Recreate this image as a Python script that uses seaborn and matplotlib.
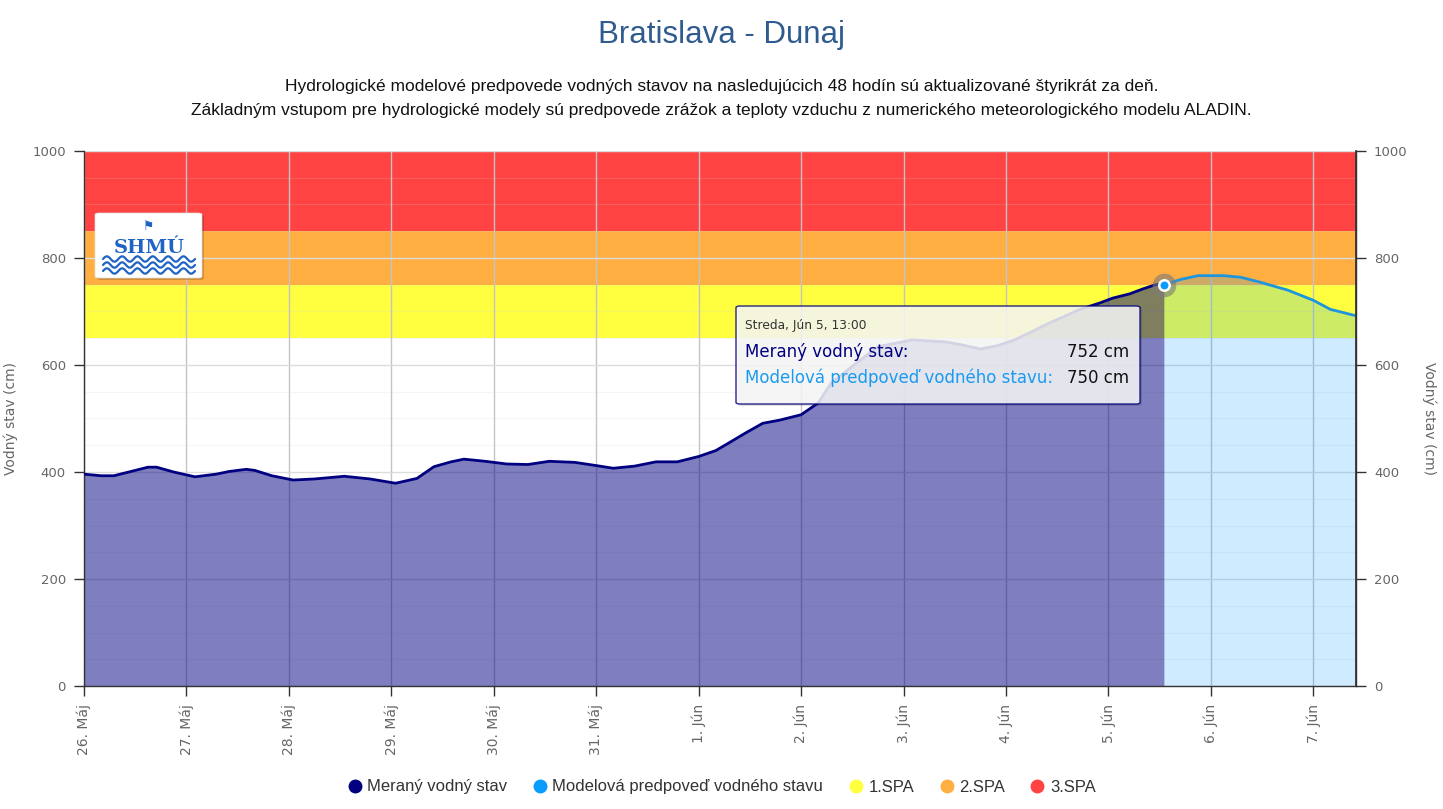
import numpy as np
import pandas as pd
import matplotlib
matplotlib.use("Agg")
import matplotlib.pyplot as plt
from matplotlib.patches import FancyBboxPatch
from matplotlib.lines import Line2D
import seaborn as sns

# ---------------- data ----------------
meas_time = [
    "2024-05-26 00:00", "2024-05-26 04:00", "2024-05-26 07:00", "2024-05-26 11:00",
    "2024-05-26 15:00", "2024-05-26 17:00", "2024-05-26 21:00", "2024-05-27 02:00",
    "2024-05-27 07:00", "2024-05-27 10:00", "2024-05-27 14:00", "2024-05-27 16:00",
    "2024-05-27 20:00", "2024-05-28 01:00", "2024-05-28 06:00", "2024-05-28 13:00",
    "2024-05-28 19:00", "2024-05-29 01:00", "2024-05-29 06:00", "2024-05-29 10:00",
    "2024-05-29 14:00", "2024-05-29 17:00", "2024-05-29 22:00", "2024-05-30 03:00",
    "2024-05-30 08:00", "2024-05-30 13:00", "2024-05-30 19:00", "2024-05-31 00:00",
    "2024-05-31 04:00", "2024-05-31 09:00", "2024-05-31 14:00", "2024-05-31 19:00",
    "2024-06-01 00:00", "2024-06-01 04:00", "2024-06-01 07:00", "2024-06-01 11:00",
    "2024-06-01 15:00", "2024-06-01 19:00", "2024-06-02 00:00", "2024-06-02 04:00",
    "2024-06-02 07:00", "2024-06-02 13:00", "2024-06-02 18:00", "2024-06-03 02:00",
    "2024-06-03 10:00", "2024-06-03 14:00", "2024-06-03 18:00", "2024-06-03 22:00",
    "2024-06-04 02:00", "2024-06-04 06:00", "2024-06-04 10:00", "2024-06-04 14:00",
    "2024-06-04 17:00", "2024-06-04 22:00", "2024-06-05 01:00", "2024-06-05 05:00",
    "2024-06-05 08:00", "2024-06-05 11:00", "2024-06-05 13:00",
]
meas_value = [
    396, 393, 393, 401, 409, 409, 400, 391,
    396, 401, 405, 403, 393, 385, 387, 392,
    387, 379, 388, 410, 419, 424, 420, 415,
    414, 420, 418, 412, 407, 411, 419, 419,
    429, 440, 454, 473, 491, 497, 507, 529,
    566, 604, 634, 647, 643, 637, 630, 636,
    647, 662, 678, 692, 703, 716, 725, 733,
    742, 750, 752,
]
fc_time = [
    "2024-06-05 13:00", "2024-06-05 17:00", "2024-06-05 21:00", "2024-06-06 03:00",
    "2024-06-06 07:00", "2024-06-06 11:00", "2024-06-06 18:00", "2024-06-07 00:00",
    "2024-06-07 04:00", "2024-06-07 10:00",
]
fc_value = [750, 760, 767, 767, 764, 756, 740, 721, 704, 692]

spa_names = ["1.SPA", "2.SPA", "3.SPA"]
spa_from = [650, 750, 850]
spa_to = [750, 850, 1000]
spa_colors = ["#ffff40", "#ffae42", "#ff4242"]

series_names = ["Meraný vodný stav", "Modelová predpoveď vodného stavu"]
series_colors = ["#000080", "#0a9bff"]
fc_line_color = "#1e95dc"

day_ticks = ["2024-05-26", "2024-05-27", "2024-05-28", "2024-05-29", "2024-05-30",
             "2024-05-31", "2024-06-01", "2024-06-02", "2024-06-03", "2024-06-04",
             "2024-06-05", "2024-06-06", "2024-06-07"]
day_labels = ["26. Máj", "27. Máj", "28. Máj", "29. Máj", "30. Máj", "31. Máj",
              "1. Jún", "2. Jún", "3. Jún", "4. Jún", "5. Jún", "6. Jún", "7. Jún"]
x_start, x_end = "2024-05-26 00:00", "2024-06-07 10:00"
y_ticks = [0, 200, 400, 600, 800, 1000]

title = "Bratislava - Dunaj"
subtitle1 = "Hydrologické modelové predpovede vodných stavov na nasledujúcich 48 hodín sú aktualizované štyrikrát za deň."
subtitle2 = "Základným vstupom pre hydrologické modely sú predpovede zrážok a teploty vzduchu z numerického meteorologického modelu ALADIN."
y_label = "Vodný stav (cm)"
tt_date = "Streda, Jún 5, 13:00"
tt_meas = "752 cm"
tt_fc = "750 cm"

# ---------------- plot ----------------
sns.set_theme(style="white")
plt.rcParams["font.family"] = ["DejaVu Sans"]

W, H = 1443, 809
fig = plt.figure(figsize=(W / 100, H / 100), dpi=100)
L, R, T, B = 84, 1356, 151, 686
ax = fig.add_axes([L / W, (H - B) / H, (R - L) / W, (B - T) / H])

meas = pd.DataFrame({"time": pd.to_datetime(meas_time), "value": meas_value})
fc = pd.DataFrame({"time": pd.to_datetime(fc_time), "value": fc_value})

# warning bands
for lo, hi, c in zip(spa_from, spa_to, spa_colors):
    ax.axhspan(lo, hi, color=c, lw=0, zorder=0)

# fills
ax.fill_between(meas["time"], 0, meas["value"], color=series_colors[0], alpha=0.5, lw=0, zorder=1)
ax.fill_between(fc["time"], 0, fc["value"], color=series_colors[1], alpha=0.2, lw=0, zorder=1)

# lines
sns.lineplot(data=meas, x="time", y="value", ax=ax, color=series_colors[0], lw=2.0, zorder=3)
sns.lineplot(data=fc, x="time", y="value", ax=ax, color=fc_line_color, lw=2.0, zorder=3)

# hover point
ax.plot(fc["time"].iloc[0], fc["value"].iloc[0], "o", ms=17, color="#7a7a7a", alpha=0.6,
        mec="none", zorder=4)
ax.plot(fc["time"].iloc[0], fc["value"].iloc[0], "o", ms=7.5, color=series_colors[1],
        mec="white", mew=1.8, zorder=5)

ax.set_xlim(pd.Timestamp(x_start), pd.Timestamp(x_end))
ax.set_ylim(0, 1000)
ax.set_xlabel("")

# grid
ax.set_axisbelow(True)
ax.set_yticks(y_ticks)
ax.set_yticks(np.arange(0, 1001, 50), minor=True)
tick_dates = pd.to_datetime(day_ticks)
ax.set_xticks(tick_dates)
ax.set_xticklabels(day_labels, rotation=90)
ax.grid(False)
ax.grid(which="major", axis="y", color="#dcdcdc", lw=1.0, zorder=0.5)
ax.grid(which="minor", axis="y", color="#d0d0d0", alpha=0.2, lw=0.8, zorder=0.5)
ax.grid(which="major", axis="x", color="#c4c4c4", lw=1.0, zorder=0.5)

ax.spines["top"].set_visible(False)
for s in ["left", "bottom", "right"]:
    ax.spines[s].set_visible(True)
    ax.spines[s].set_color("#333333")
    ax.spines[s].set_linewidth(1.0)

ax.tick_params(axis="y", which="major", direction="out", length=7, width=1, color="#333333",
               labelsize=9.5, labelcolor="#666666", pad=6, left=True)
ax.tick_params(axis="y", which="minor", length=0)
ax.tick_params(axis="x", which="major", direction="out", length=7, width=1, color="#333333",
               labelsize=10, labelcolor="#666666", pad=6, bottom=True)

ax.set_ylabel(y_label, fontsize=10, color="#666666")
ax.yaxis.set_label_coords((18 - L) / (R - L), 0.5)

ax2 = ax.twinx()
ax2.set_ylim(0, 1000)
ax2.set_yticks(y_ticks)
ax2.grid(False)
for s in ["top", "left", "bottom"]:
    ax2.spines[s].set_visible(False)
ax2.spines["right"].set_color("#333333")
ax2.tick_params(axis="y", direction="out", length=7, width=1, color="#333333",
                labelsize=9.5, labelcolor="#666666", pad=6, right=True)
ax2.set_ylabel(y_label, fontsize=10, color="#666666", rotation=270)
ax2.yaxis.set_label_coords((1437 - L) / (R - L), 0.5)

# logo
def axx(px):
    return (px - L) / (R - L)

def axy(py):
    return (B - py) / (B - T)

shadow = FancyBboxPatch((axx(97), axy(280)), axx(204) - axx(97), axy(215) - axy(280),
                        boxstyle="round,pad=0,rounding_size=0.003", transform=ax.transAxes,
                        fc="#000000", alpha=0.18, ec="none", zorder=6)
ax.add_patch(shadow)
logo = FancyBboxPatch((axx(95), axy(278)), axx(202) - axx(95), axy(213) - axy(278),
                      boxstyle="round,pad=0,rounding_size=0.003", transform=ax.transAxes,
                      fc="white", ec="#dddddd", lw=0.5, zorder=7)
ax.add_patch(logo)
ax.text(axx(149), axy(248), "SHMÚ", transform=ax.transAxes, ha="center", va="center",
        fontsize=14, fontweight="bold", family="DejaVu Serif", color="#1f64c4", zorder=8)
ax.text(axx(149), axy(226), "⚑", transform=ax.transAxes, ha="center", va="center",
        fontsize=9, color="#1f64c4", zorder=8)
wx = np.linspace(axx(103), axx(195), 120)
for py in [259, 265, 271]:
    wy = axy(py) + 0.005 * np.sin((wx - wx[0]) / (wx[-1] - wx[0]) * 2 * np.pi * 6)
    ax.plot(wx, wy, transform=ax.transAxes, color="#1f64c4", lw=1.6, zorder=8)

# tooltip
tt_shadow = FancyBboxPatch((axx(738), axy(406)), axx(1142) - axx(738), axy(306) - axy(406),
                           boxstyle="round,pad=0,rounding_size=0.003", transform=ax.transAxes,
                           fc="#000000", alpha=0.12, ec="none", zorder=9)
ax.add_patch(tt_shadow)
tt = FancyBboxPatch((axx(736), axy(404)), axx(1140) - axx(736), axy(306) - axy(404),
                    boxstyle="round,pad=0,rounding_size=0.003", transform=ax.transAxes,
                    fc="#f9f9f9", alpha=0.85, ec="#00007f", lw=1.0, zorder=10)
ax.add_patch(tt)
ax.text(axx(745), axy(326), tt_date, transform=ax.transAxes, ha="left", va="center",
        fontsize=8.8, color="#333333", zorder=11)
ax.text(axx(745), axy(352), series_names[0] + ":", transform=ax.transAxes, ha="left",
        va="center", fontsize=12, color=series_colors[0], zorder=11)
ax.text(axx(1129), axy(352), tt_meas, transform=ax.transAxes, ha="right", va="center",
        fontsize=12, color="#111111", zorder=11)
ax.text(axx(745), axy(378), series_names[1] + ":", transform=ax.transAxes, ha="left",
        va="center", fontsize=12, color="#1a9bf0", zorder=11)
ax.text(axx(1129), axy(378), tt_fc, transform=ax.transAxes, ha="right", va="center",
        fontsize=12, color="#111111", zorder=11)

# titles
fig.text(0.5, 1 - 35 / H, title, ha="center", va="center", fontsize=22.5,
         family="Liberation Sans", color="#2f5b8f")
fig.text(0.5, 1 - 86 / H, subtitle1, ha="center", va="center", fontsize=12.5,
         family="Liberation Sans", color="#111111")
fig.text(0.5, 1 - 111 / H, subtitle2, ha="center", va="center", fontsize=12.5,
         family="Liberation Sans", color="#111111")

# legend
leg_labels = series_names + spa_names
leg_colors = series_colors + spa_colors
handles = [Line2D([0], [0], marker="o", ls="none", ms=9, mfc=c, mec=c) for c in leg_colors]
fig.legend(handles, leg_labels, loc="center", bbox_to_anchor=(0.5, 1 - 787 / H), ncol=5,
           frameon=False, handletextpad=0.3, columnspacing=1.5, handlelength=0.9,
           prop={"family": "Liberation Sans", "size": 12}, labelcolor="#333333")

fig.savefig("out.png", dpi=100)
